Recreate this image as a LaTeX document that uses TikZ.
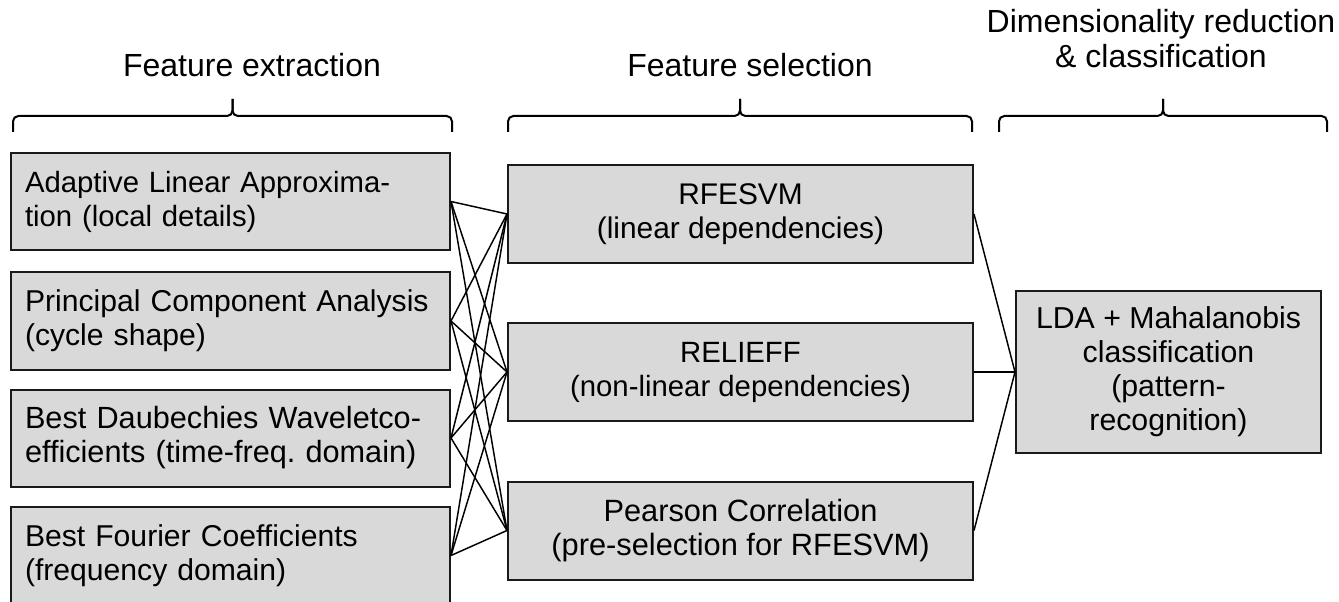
\documentclass[tikz,border=0pt]{standalone}
\usepackage{fontspec}
\setmainfont{Liberation Sans}
\newcommand{\stagefont}[1]{\fontsize{#1}{25.5pt}\selectfont}
\definecolor{boxgray}{RGB}{217,217,217}
\definecolor{boxline}{RGB}{26,26,26}
\tikzstyle{stage}=[draw=boxline, fill=boxgray, line width=1.5pt, inner sep=0, font=\stagefont{22pt}]
\tikzstyle{extractbox}=[stage, minimum width=329.25pt, minimum height=72.75pt, text width=308.25pt, align=left]
\tikzstyle{selectbox}=[stage, minimum width=348.75pt, minimum height=73.5pt, align=center]
\tikzstyle{classbox}=[stage, minimum width=228.75pt, minimum height=121.5pt, align=center]
\tikzstyle{heading}=[inner sep=0, font={\fontsize{24pt}{26.25pt}\selectfont}, align=center]
\tikzstyle{link}=[line width=1.1pt]
\tikzstyle{stagebrace}=[line width=1.5pt, rounded corners=4pt]
\begin{document}
\begin{tikzpicture}[x=0.75pt, y=-0.75pt]
        \useasboundingbox (0, 0) rectangle (1339, 602);
        % stage headings
        \node[heading, anchor=base] (fetitle) at (252, 77) {Feature extraction};
        \node[heading, anchor=base] (fstitle) at (750, 77) {Feature selection};
        \node[heading] (dctitle) at (1161, 39) {Dimensionality reduction\\\& classification};
        % braces
        \draw[stagebrace] (13, 132) |- (232.5, 116) -- (232.5, 99);
        \draw[stagebrace] (452, 132) |- (232.5, 116) -- (232.5, 99);
        \draw[stagebrace] (508, 132) |- (740, 116) -- (740, 99);
        \draw[stagebrace] (972, 132) |- (740, 116) -- (740, 99);
        \draw[stagebrace] (999, 132) |- (1163, 116) -- (1163, 99);
        \draw[stagebrace] (1327, 132) |- (1163, 116) -- (1163, 99);
        % feature extraction
        \node[extractbox] (ala) at (230.5, 201.5) {Adaptive Linear Approxima-\\tion (local details)};
        \node[extractbox, font=\stagefont{22.6pt}] (pca) at (230.5, 321) {Principal Component Analysis\\(cycle shape)};
        \node[extractbox, font=\stagefont{23pt}] (dwt) at (230.5, 438) {Best Daubechies Waveletco-\\efficients (time-freq.\ domain)};
        \node[extractbox, font=\stagefont{22.6pt}] (fft) at (230.5, 555.5) {Best Fourier Coefficients\\(frequency domain)};
        % feature selection
        \node[selectbox, font=\stagefont{22.4pt}] (rfe) at (740.5, 214) {RFESVM\\(linear dependencies)};
        \node[selectbox] (relief) at (740.5, 372) {RELIEFF\\(non-linear dependencies)};
        \node[selectbox, font=\stagefont{23.1pt}] (pearson) at (740.5, 530.5) {Pearson Correlation\\(pre-selection for RFESVM)};
        % classification
        \node[classbox, font=\stagefont{22.7pt}] (lda) at (1168.5, 372) {LDA + Mahalanobis\\classification\\(pattern-\\recognition)};
        % every extraction feeds every selection
        \draw[link] (ala.east) -- (rfe.west);
        \draw[link] (ala.east) -- (relief.west);
        \draw[link] (ala.east) -- (pearson.west);
        \draw[link] (pca.east) -- (rfe.west);
        \draw[link] (pca.east) -- (relief.west);
        \draw[link] (pca.east) -- (pearson.west);
        \draw[link] (dwt.east) -- (rfe.west);
        \draw[link] (dwt.east) -- (relief.west);
        \draw[link] (dwt.east) -- (pearson.west);
        \draw[link] (fft.east) -- (rfe.west);
        \draw[link] (fft.east) -- (relief.west);
        \draw[link] (fft.east) -- (pearson.west);
        \draw[link] (rfe.east) -- (lda.west);
        \draw[link] (relief.east) -- (lda.west);
        \draw[link] (pearson.east) -- (lda.west);
    \end{tikzpicture}
\end{document}
